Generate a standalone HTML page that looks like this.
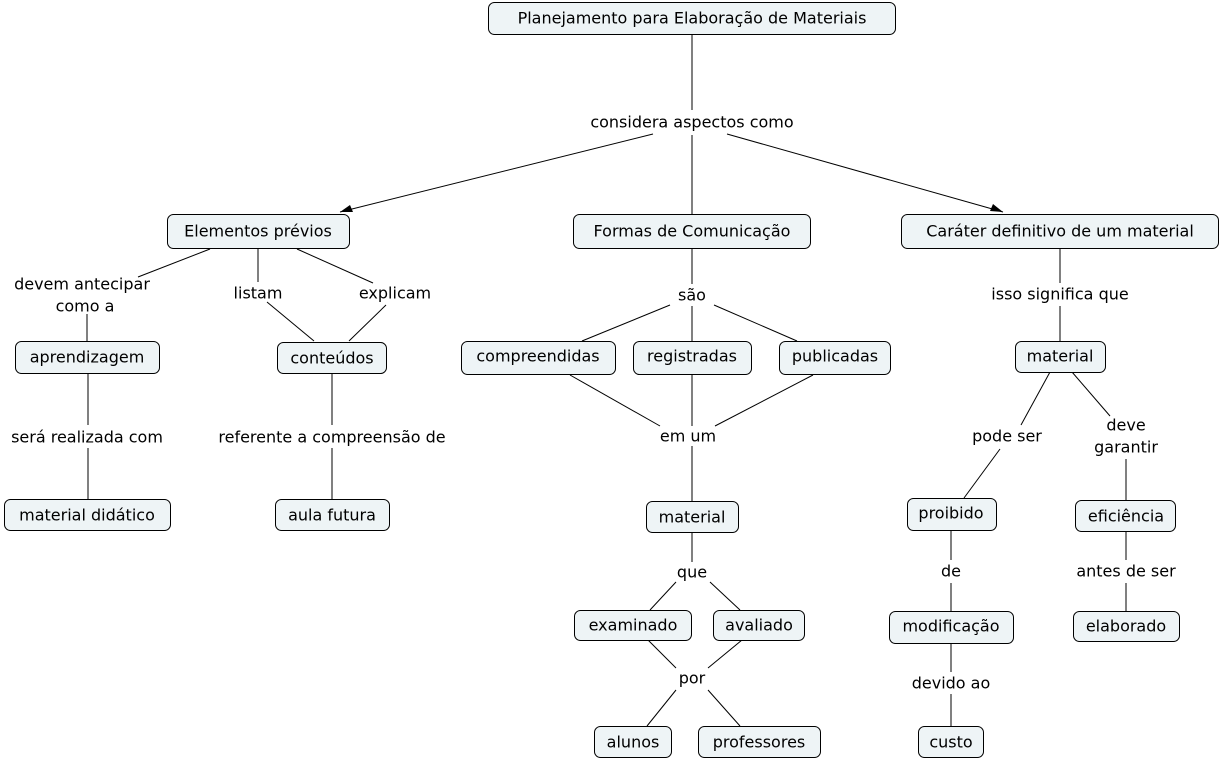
<!DOCTYPE html>
<html><head><meta charset="utf-8"><style>
html,body{margin:0;padding:0;background:#fff;}
svg{display:block;}
text{font-family:"DejaVu Sans","Liberation Sans",sans-serif;font-size:16px;fill:#000;}
rect{fill:#eef4f6;stroke:#000;stroke-width:1;}
line{stroke:#000;stroke-width:1;}
</style></head><body>
<svg width="1221" height="762" viewBox="0 0 1221 762" xmlns="http://www.w3.org/2000/svg">
<!-- lines -->
<line x1="692" y1="34" x2="692" y2="110"/>
<line x1="692" y1="135" x2="692" y2="214"/>
<line x1="653" y1="134" x2="340" y2="212"/>
<line x1="727" y1="134" x2="1003" y2="212"/>
<polygon points="340,212 350,205 353,212" fill="#000"/>
<polygon points="1003,212 990,211 993,204" fill="#000"/>
<line x1="210" y1="249" x2="138" y2="277"/>
<line x1="87" y1="314" x2="87" y2="341"/>
<line x1="258" y1="249" x2="258" y2="282"/>
<line x1="297" y1="249" x2="373" y2="283"/>
<line x1="267" y1="302" x2="314" y2="341"/>
<line x1="386" y1="305" x2="349" y2="341"/>
<line x1="88" y1="374" x2="88" y2="425"/>
<line x1="88" y1="448" x2="88" y2="499"/>
<line x1="332" y1="373" x2="332" y2="425"/>
<line x1="332" y1="448" x2="332" y2="499"/>
<line x1="692" y1="248" x2="692" y2="284"/>
<line x1="670" y1="305" x2="582" y2="341"/>
<line x1="692" y1="306" x2="692" y2="341"/>
<line x1="714" y1="305" x2="797" y2="341"/>
<line x1="570" y1="375" x2="660" y2="426"/>
<line x1="692" y1="375" x2="692" y2="426"/>
<line x1="813" y1="375" x2="715" y2="426"/>
<line x1="692" y1="446" x2="692" y2="501"/>
<line x1="692" y1="532" x2="692" y2="562"/>
<line x1="676" y1="582" x2="650" y2="610"/>
<line x1="710" y1="582" x2="740" y2="610"/>
<line x1="648" y1="640" x2="676" y2="668"/>
<line x1="742" y1="640" x2="708" y2="668"/>
<line x1="676" y1="690" x2="647" y2="726"/>
<line x1="708" y1="690" x2="740" y2="726"/>
<line x1="1060" y1="248" x2="1060" y2="283"/>
<line x1="1060" y1="306" x2="1060" y2="341"/>
<line x1="1050" y1="372" x2="1021" y2="425"/>
<line x1="1072" y1="372" x2="1110" y2="416"/>
<line x1="1000" y1="449" x2="964" y2="498"/>
<line x1="1126" y1="459" x2="1126" y2="500"/>
<line x1="951" y1="530" x2="951" y2="560"/>
<line x1="951" y1="583" x2="951" y2="611"/>
<line x1="1126" y1="531" x2="1126" y2="560"/>
<line x1="1126" y1="583" x2="1126" y2="611"/>
<line x1="951" y1="643" x2="951" y2="672"/>
<line x1="951" y1="694" x2="951" y2="726"/>
<!-- boxes -->
<rect x="488.5" y="2.5" width="407" height="32" rx="6"/>
<rect x="167.5" y="214.5" width="182" height="34" rx="6"/>
<rect x="573.5" y="214.5" width="237" height="34" rx="6"/>
<rect x="901.5" y="214.5" width="317" height="34" rx="6"/>
<rect x="15.5" y="341.5" width="144" height="32" rx="6"/>
<rect x="277.5" y="342.5" width="109" height="31" rx="6"/>
<rect x="4.5" y="499.5" width="166" height="31" rx="6"/>
<rect x="275.5" y="499.5" width="114" height="31" rx="6"/>
<rect x="461.5" y="341.5" width="154" height="33" rx="6"/>
<rect x="633.5" y="341.5" width="118" height="33" rx="6"/>
<rect x="779.5" y="341.5" width="111" height="33" rx="6"/>
<rect x="646.5" y="501.5" width="92" height="31" rx="6"/>
<rect x="574.5" y="610.5" width="117" height="30" rx="6"/>
<rect x="713.5" y="610.5" width="91" height="30" rx="6"/>
<rect x="594.5" y="726.5" width="77" height="31" rx="6"/>
<rect x="698.5" y="726.5" width="122" height="31" rx="6"/>
<rect x="1015.5" y="341.5" width="90" height="31" rx="6"/>
<rect x="907.5" y="498.5" width="89" height="32" rx="6"/>
<rect x="1075.5" y="500.5" width="100" height="31" rx="6"/>
<rect x="889.5" y="611.5" width="124" height="32" rx="6"/>
<rect x="1073.5" y="611.5" width="106" height="30" rx="6"/>
<rect x="918.5" y="726.5" width="65" height="31" rx="6"/>
<!-- text -->
<g text-anchor="middle" dominant-baseline="central">
<text x="692" y="18">Planejamento para Elaboração de Materiais</text>
<text x="692" y="122">considera aspectos como</text>
<text x="258" y="231">Elementos prévios</text>
<text x="692" y="231">Formas de Comunicação</text>
<text x="1060" y="231">Caráter definitivo de um material</text>
<text x="82" y="284">devem antecipar</text>
<text x="85" y="306">como a</text>
<text x="258" y="293">listam</text>
<text x="395" y="293">explicam</text>
<text x="87" y="357">aprendizagem</text>
<text x="332" y="358">conteúdos</text>
<text x="87" y="437">será realizada com</text>
<text x="332" y="437">referente a compreensão de</text>
<text x="87" y="515">material didático</text>
<text x="332" y="515">aula futura</text>
<text x="692" y="295">são</text>
<text x="538" y="356">compreendidas</text>
<text x="692" y="356">registradas</text>
<text x="835" y="356">publicadas</text>
<text x="688" y="436">em um</text>
<text x="692" y="517">material</text>
<text x="692" y="572">que</text>
<text x="633" y="625">examinado</text>
<text x="759" y="625">avaliado</text>
<text x="692" y="678">por</text>
<text x="633" y="742">alunos</text>
<text x="759" y="742">professores</text>
<text x="1060" y="294">isso significa que</text>
<text x="1060" y="356">material</text>
<text x="1007" y="436">pode ser</text>
<text x="1126" y="425">deve</text>
<text x="1126" y="447">garantir</text>
<text x="951" y="513">proibido</text>
<text x="1126" y="516">eficiência</text>
<text x="951" y="571">de</text>
<text x="1126" y="571">antes de ser</text>
<text x="951" y="626">modificação</text>
<text x="1126" y="626">elaborado</text>
<text x="951" y="683">devido ao</text>
<text x="951" y="742">custo</text>
</g>
</svg>
</body></html>
